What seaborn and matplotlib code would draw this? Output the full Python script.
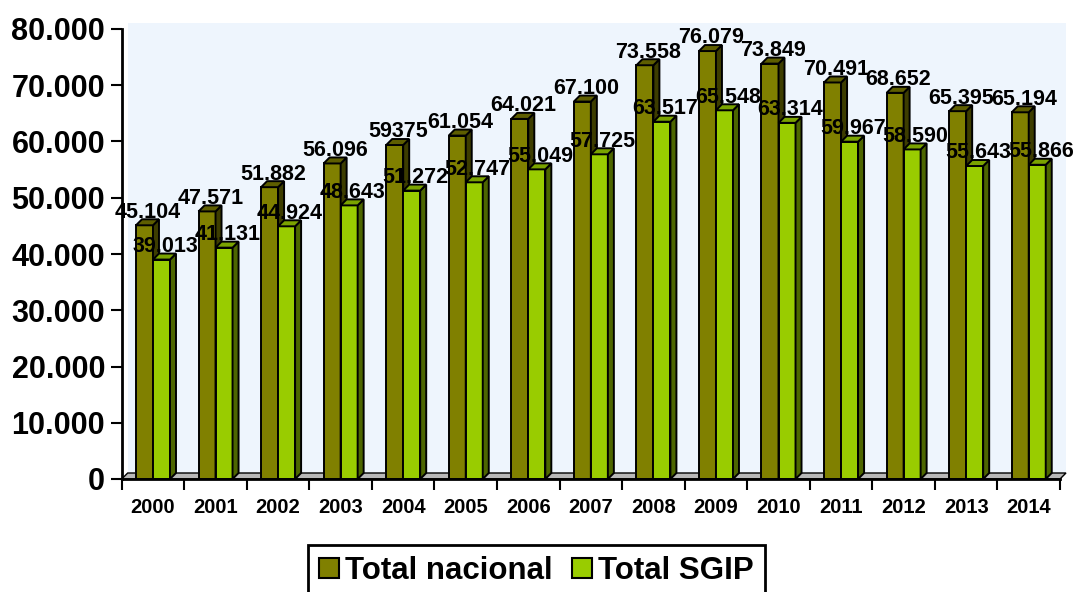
import pandas as pd
import matplotlib
matplotlib.use('Agg')
import matplotlib.pyplot as plt
from matplotlib.patches import Polygon, Patch
import seaborn as sns

# dados
anos = ['2000', '2001', '2002', '2003', '2004', '2005', '2006', '2007',
        '2008', '2009', '2010', '2011', '2012', '2013', '2014']
total_nacional = [45104, 47571, 51882, 56096, 59375, 61054, 64021, 67100,
                  73558, 76079, 73849, 70491, 68652, 65395, 65194]
total_sgip = [39013, 41131, 44924, 48643, 51272, 52747, 55049, 57725,
              63517, 65548, 63314, 59967, 58590, 55643, 55866]
rotulos_nacional = ['45.104', '47.571', '51.882', '56.096', '59375', '61.054',
                    '64.021', '67.100', '73.558', '76.079', '73.849', '70.491',
                    '68.652', '65.395', '65.194']
rotulos_sgip = ['39.013', '41.131', '44.924', '48.643', '51.272', '52.747',
                '55.049', '57.725', '63.517', '65.548', '63.314', '59.967',
                '58.590', '55.643', '55.866']
series = ['Total nacional', 'Total SGIP']
y_ticks = [0, 10000, 20000, 30000, 40000, 50000, 60000, 70000, 80000]
y_tick_labels = ['0', '10.000', '20.000', '30.000', '40.000', '50.000',
                 '60.000', '70.000', '80.000']

cores = ['#808000', '#99CC00']
cores_topo = ['#5E5E00', '#7AA300']
cores_lado = ['#3D3D00', '#4D6600']

df = pd.DataFrame({
    'Ano': anos * 2,
    'Valor': total_nacional + total_sgip,
    'Serie': [series[0]] * len(anos) + [series[1]] * len(anos),
})

sns.set_theme(style='white')
plt.rcParams['font.family'] = ['Liberation Sans', 'DejaVu Sans']
plt.rcParams['font.weight'] = 'bold'
plt.rcParams['text.color'] = 'black'
plt.rcParams['xtick.color'] = 'black'
plt.rcParams['ytick.color'] = 'black'
plt.rcParams['axes.labelcolor'] = 'black'

fig = plt.figure(figsize=(10.76, 5.92), dpi=100)
ax = fig.add_axes([121.7 / 1076, (592 - 479) / 592, 938.3 / 1076, 450 / 592])
ax.set_facecolor('none')

sns.barplot(data=df, x='Ano', y='Valor', hue='Serie', palette=cores,
            width=0.544, edgecolor='black', linewidth=1.4, saturation=1,
            legend=False, ax=ax)

ax.set_xlim(-0.5, len(anos) - 0.5)
ax.set_ylim(0, 80000)

# profundidade 3D em unidades de dados (~6 px)
larg_px = 938.3
alt_px = 450
dx = 6 * (len(anos)) / larg_px
dy = 6 * 80000 / alt_px
x0, x1 = ax.get_xlim()

# parede de fundo e chao
ax.add_patch(Polygon([(x0 + dx, dy), (x1 + dx, dy), (x1 + dx, 80000 + dy), (x0 + dx, 80000 + dy)],
                     closed=True, facecolor='#EEF5FD', edgecolor='none', zorder=0, clip_on=False))
ax.add_patch(Polygon([(x0, 0), (x1, 0), (x1 + dx, dy), (x0 + dx, dy)],
                     closed=True, facecolor='#B8B8B8', edgecolor='black', linewidth=1,
                     zorder=1, clip_on=False))

# faces 3D, ordem por categoria
for s, cont in enumerate(ax.containers):
    rotulos = rotulos_nacional if s == 0 else rotulos_sgip
    for i, p in enumerate(cont.patches):
        z = 3 + 2 * i + 0.5 * s
        p.set_zorder(z)
        bx = p.get_x()
        w = p.get_width()
        h = p.get_height()
        topo = Polygon([(bx, h), (bx + dx, h + dy), (bx + w + dx, h + dy), (bx + w, h)],
                       closed=True, facecolor=cores_topo[s], edgecolor='black',
                       linewidth=1.4, zorder=z, clip_on=False)
        lado = Polygon([(bx + w, 0), (bx + w + dx, dy), (bx + w + dx, h + dy), (bx + w, h)],
                       closed=True, facecolor=cores_lado[s], edgecolor='black',
                       linewidth=1.4, zorder=z, clip_on=False)
        ax.add_patch(lado)
        ax.add_patch(topo)
        ax.annotate(rotulos[i], (bx + w / 2, h), xytext=(2.5, 5.5),
                    textcoords='offset points', ha='center', va='baseline',
                    fontsize=15.5, fontweight='bold', color='black',
                    zorder=3 + 2 * i + 1, annotation_clip=False)

# eixos
for lado_sp in ['top', 'right']:
    ax.spines[lado_sp].set_visible(False)
for lado_sp in ['left', 'bottom']:
    ax.spines[lado_sp].set_color('black')
    ax.spines[lado_sp].set_linewidth(2)
    ax.spines[lado_sp].set_zorder(40)

ax.set_yticks(y_ticks)
ax.set_yticklabels(y_tick_labels, fontsize=22, fontweight='bold', color='black')
ax.tick_params(axis='y', direction='out', length=8, width=1.5, color='black', pad=4, left=True)

ax.set_xticks(range(len(anos)))
ax.set_xticklabels(anos, fontsize=14.5, fontweight='bold', color='black')
ax.set_xticks([k - 0.5 for k in range(len(anos) + 1)], minor=True)
ax.tick_params(axis='x', which='major', length=0, pad=14)
ax.tick_params(axis='x', which='minor', direction='out', length=8, width=1.5,
               color='black', bottom=True)
ax.set_xlabel('')
ax.set_ylabel('')
ax.grid(False)

handles = [Patch(facecolor=cores[0], edgecolor='black', linewidth=1.5),
           Patch(facecolor=cores[1], edgecolor='black', linewidth=1.5)]
leg = fig.legend(handles, series, loc='upper center', ncol=2,
                 bbox_to_anchor=(536.5 / 1076, 1 - 545 / 592),
                 prop={'weight': 'bold', 'size': 22.5},
                 frameon=True, fancybox=False, edgecolor='black', framealpha=1,
                 borderpad=0.35, handlelength=0.65, handleheight=0.65,
                 handletextpad=0.2, columnspacing=0.6, borderaxespad=0)
leg.get_frame().set_linewidth(2)
for t in leg.get_texts():
    t.set_color('black')

fig.savefig('out.png', dpi=100, facecolor='white')
